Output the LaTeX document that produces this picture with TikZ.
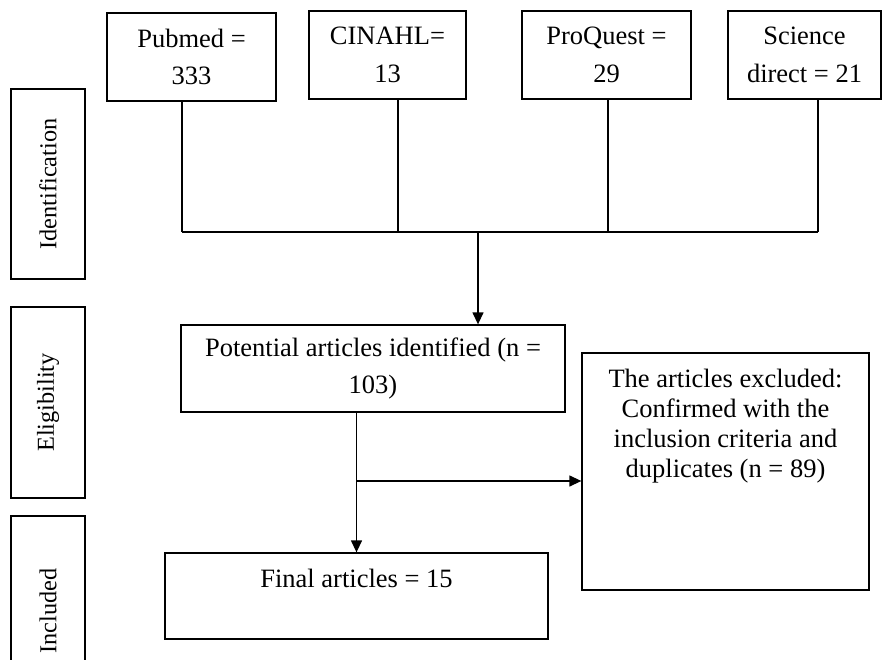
\documentclass[tikz,border=0pt]{standalone}
\usepackage{fontspec}
\setmainfont{Liberation Serif}
\usetikzlibrary{arrows.meta,calc,positioning}

\begin{document}
\begin{tikzpicture}[x=1pt, y=-1pt,
    box/.style={draw, line width=1.3pt, align=center, inner sep=2pt,
      font=\fontsize{26.5}{37.5}\selectfont},
    side/.style={box, rotate=90, minimum width=190pt, minimum height=74pt,
      font=\fontsize{24.3}{30}\selectfont},
    flow/.style={line width=1.3pt, -{Triangle[length=12pt, width=11pt]}}]

    \useasboundingbox (0,0) rectangle (883,660);
    \clip (0,0) rectangle (883,660);

    % Stages
    \node[side] (identification) at (48,184) {Identification};
    \node[side, minimum width=191pt] (eligibility) at (48,402.5) {Eligibility};
    \node[side] (included) at (48,611) {Included};

    % Databases
    \node[box, minimum width=169pt, minimum height=88pt] (pubmed) at (191.5,57) {Pubmed =\\333};
    \node[box, minimum width=157pt, minimum height=88pt] (cinahl) at (387.5,55) {CINAHL=\\13};
    \node[box, minimum width=169pt, minimum height=88pt] (proquest) at (606.5,55) {ProQuest =\\29};
    \node[box, minimum width=153pt, minimum height=88pt] (science) at (804.5,55) {Science\\direct = 21};

    % Screening
    \node[box, minimum width=384pt, minimum height=87pt] (potential) at (373,368.5)
      {Potential articles identified (n =\\103)};
    \node[box, minimum width=287pt, text height=110pt, text depth=99pt, inner ysep=14pt,
      font=\fontsize{26.5}{30}\selectfont] (excluded) at (725.5,471.5)
      {The articles excluded:\\Confirmed with the\\inclusion criteria and\\duplicates (n = 89)};
    \node[box, minimum width=383pt, text height=18pt, text depth=36pt, inner ysep=16pt]
      (final) at (356.5,596) {Final articles = 15};

    % Joining the databases
    \coordinate (joint) at (478,232);
    \foreach \db/\dx in {pubmed/-9.5, cinahl/10.5, proquest/1.5, science/13.5} {
        \draw[line width=1.3pt] ([xshift=\dx pt]\db.south) -- ([xshift=\dx pt]\db.south |- joint);
    }
    \draw[line width=1.3pt] ([xshift=-9.5pt]pubmed.south |- joint) -- ([xshift=13.5pt]science.south |- joint);
    \draw[flow] (joint) -- (joint |- potential.north);

    % Exclusion branch
    \coordinate (branch) at (356.5,481);
    \draw[flow] (final.north |- potential.south) -- (final.north);
    \draw[flow] (branch) -- (branch -| excluded.west);

\end{tikzpicture}
\end{document}
